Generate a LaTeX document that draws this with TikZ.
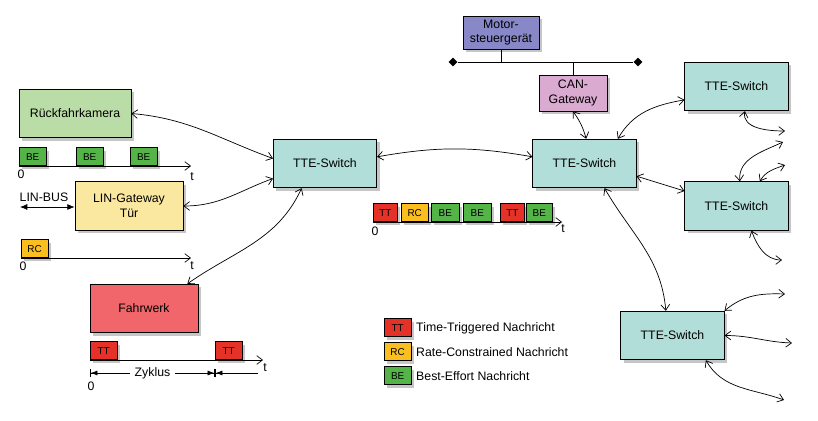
\documentclass[tikz,border=0pt]{standalone}
\usepackage{fontspec}
\setmainfont{Liberation Sans}
\usepackage{tikz}
\usetikzlibrary{%
   arrows.meta,%
   shapes.geometric,%
   shadows,%
   positioning}

\definecolor{camgreen}{RGB}{186,220,166}
\definecolor{linyellow}{RGB}{251,232,160}
\definecolor{chassisred}{RGB}{240,102,106}
\definecolor{switchteal}{RGB}{178,222,217}
\definecolor{motorblue}{RGB}{136,136,200}
\definecolor{canpink}{RGB}{218,170,208}
\definecolor{msgTT}{RGB}{228,50,40}
\definecolor{msgRC}{RGB}{250,190,30}
\definecolor{msgBE}{RGB}{84,180,72}

\begin{document}
\begin{tikzpicture}
[x=0.03cm, y=-0.03cm,
 >={Straight Barb[length=1.7mm,width=2.6mm]},
 shade/.style={drop shadow={opacity=0.45,shadow xshift=0.9mm,shadow yshift=-0.9mm}},
 typeE/.style={rectangle,draw,semithick,shade,inner sep=0pt,align=center,
               minimum width=3.2cm,minimum height=1.46cm,font=\fontsize{10.5}{12.5}\selectfont},
 typeS/.style={typeE,fill=switchteal,minimum width=3.1cm},
 typeM/.style={rectangle,draw,semithick,shade,inner sep=0pt,anchor=south west,
               minimum width=0.8cm,minimum height=0.54cm,font=\fontsize{8.5}{9}\selectfont},
 typeTT/.style={typeM,fill=msgTT},
 typeRC/.style={typeM,fill=msgRC},
 typeBE/.style={typeM,fill=msgBE},
 lbl/.style={inner sep=0pt,font=\fontsize{10.5}{12}\selectfont},
 bus end/.style={diamond,fill,inner sep=1.9pt},
 link/.style={<->,semithick},
 axis/.style={->,semithick},
 solid head/.style={>={Latex[length=2.2mm,width=1.8mm]}}]
\useasboundingbox (0,0) rectangle (818,420);

% end devices
\node[typeE,fill=camgreen,minimum width=3.36cm]   (cam)     at ( 75  ,113.5) {Rückfahrkamera};
\node[typeE,fill=linyellow,minimum width=3.24cm]  (lin)     at (129  ,206  ) {LIN-Gateway\\Tür};
\node[typeE,fill=chassisred,minimum width=3.24cm] (chassis) at (144  ,308.5) {Fahrwerk};
\node[typeE,fill=motorblue,minimum width=2.28cm,minimum height=0.99cm] (motor) at (501,32.5) {Motor-\\steuergerät};
\node[typeE,fill=canpink,minimum width=2.04cm,minimum height=1.08cm]   (can)   at (573,93  ) {CAN-\\Gateway};

% switches
\node[typeS] (swL)  at (325  ,163.5) {TTE-Switch};
\node[typeS] (swC)  at (584.5,163.5) {TTE-Switch};
\node[typeS] (swTR) at (736.5, 86.5) {TTE-Switch};
\node[typeS] (swMR) at (736.5,206  ) {TTE-Switch};
\node[typeS] (swB)  at (672.5,335.5) {TTE-Switch};

% CAN bus
\node[bus end] (busL) at (453,62) {};
\node[bus end] (busR) at (638,62) {};
\draw[semithick] (busL) -- (busR);
\draw[semithick] (motor.south) -- (motor.south |- busL);
\draw[semithick] (can.north) -- (can.north |- busL);

% LIN bus
\node[lbl] (linbus) at (44,197) {LIN-BUS};
\coordinate (linbusL) at (20,207);
\draw[<->,solid head,semithick] (linbusL) -- (lin.west |- linbusL);

% messages of the camera
\node[typeBE] (be1) at ( 19,166) {BE};
\node[typeBE] (be2) at ( 76,166) {BE};
\node[typeBE] (be3) at (130,166) {BE};
\coordinate (camT) at (191,166);
\draw[axis] (be1.south west) -- (camT);
\node[lbl] (camZero) at ( 21,174) {0};
\node[lbl] (camt)    at (192,177) {t};

% messages of the LIN gateway
\node[typeRC] (rc1) at ( 21,258) {RC};
\coordinate (linT) at (191,258);
\draw[axis] (rc1.south west) -- (linT);
\node[lbl] (linZero) at ( 23,266) {0};
\node[lbl] (lint)    at (192,266) {t};

% messages of the chassis
\node[typeTT] (tt1) at ( 90,360) {TT};
\node[typeTT] (tt2) at (215,360) {TT};
\coordinate (chT) at (263,360);
\draw[axis] (tt1.south west) -- (chT);
\node[lbl] (chZero) at ( 91,386) {0};
\node[lbl] (cht)    at (265,368) {t};
\coordinate (zA) at ( 90,373);
\coordinate (zB) at (215,373);
\coordinate (zC) at (258,373);
\draw[{Bar[width=2.6mm]Latex[length=2mm]}-{Latex[length=2mm]Bar[width=2.6mm]},semithick]
     (zA) -- node[fill=white,lbl,inner xsep=4pt] {Zyklus} (zB);
\draw[{Bar[width=2.6mm]Latex[length=2mm]}-,semithick] (zB) -- (zC);

% messages on the backbone
\node[typeTT,minimum width=0.72cm] (m1) at (373,222) {TT};
\node[typeRC]                      (m2) at (401,222) {RC};
\node[typeBE,minimum width=0.84cm] (m3) at (431,222) {BE};
\node[typeBE,minimum width=0.84cm] (m4) at (463,222) {BE};
\node[typeTT,minimum width=0.72cm] (m5) at (500,222) {TT};
\node[typeBE,minimum width=0.78cm] (m6) at (526,222) {BE};
\coordinate (mT) at (562,222);
\draw[axis] (m1.south west) -- (mT);
\node[lbl] (mZero) at (375,231) {0};
\node[lbl] (mt)    at (563,229) {t};

% legend
\node[typeTT] (legTT) at (384,337) {TT};
\node[typeRC] (legRC) at (384,361) {RC};
\node[typeBE] (legBE) at (384,385) {BE};
\node[lbl,anchor=west] (legTTt) at (416,328) {Time-Triggered Nachricht};
\node[lbl,anchor=west] (legRCt) at (416,352) {Rate-Constrained Nachricht};
\node[lbl,anchor=west] (legBEt) at (416,376) {Best-Effort Nachricht};

% open ends
\coordinate (oTR)  at (785,131);
\coordinate (oMR1) at (783,142);
\coordinate (oMR2) at (785,165);
\coordinate (oMR3) at (782,260);
\coordinate (oB1)  at (785,294);
\coordinate (oB2)  at (792,343);
\coordinate (oB3)  at (784,400);

\path (cam.east)          edge[link,out=-5,in=160]   ([yshift=1.5mm]swL.west)
      (lin.east)          edge[link,out=0,in=200]    ([yshift=-4.5mm]swL.west)
      ([xshift=1.3cm]chassis.north) edge[link,out=35,in=-115] ([xshift=-0.7cm]swL.south)
      ([yshift=2mm]swL.east) edge[link,bend left=10] ([yshift=2mm]swC.west)
      (can.south)         edge[link,bend left=10]    ([xshift=0.05cm]swC.north)
      ([xshift=1cm]swC.north) edge[link,out=60,in=190] ([yshift=-4mm]swTR.west)
      ([yshift=-3.8mm]swC.east) edge[link] ([yshift=4.5mm]swMR.west)
      ([xshift=0.6cm]swC.south) edge[link,out=-60,in=95] ([xshift=-0.2cm]swB.north)
      ([xshift=0.25cm]swTR.south) edge[link,out=-100,in=180] (oTR)
      ([xshift=0.1cm]swMR.north)  edge[link,out=95,in=205]   (oMR1)
      ([xshift=0.7cm]swMR.north)  edge[link,out=60,in=200]   (oMR2)
      ([xshift=0.45cm]swMR.south) edge[link,out=-70,in=180]  (oMR3)
      (swB.north east)    edge[link,out=40,in=178]   (oB1)
      (swB.east)          edge[link,out=0,in=178]    (oB2)
      ([xshift=1cm]swB.south) edge[link,out=-60,in=160] (oB3);
\end{tikzpicture}
\end{document}
